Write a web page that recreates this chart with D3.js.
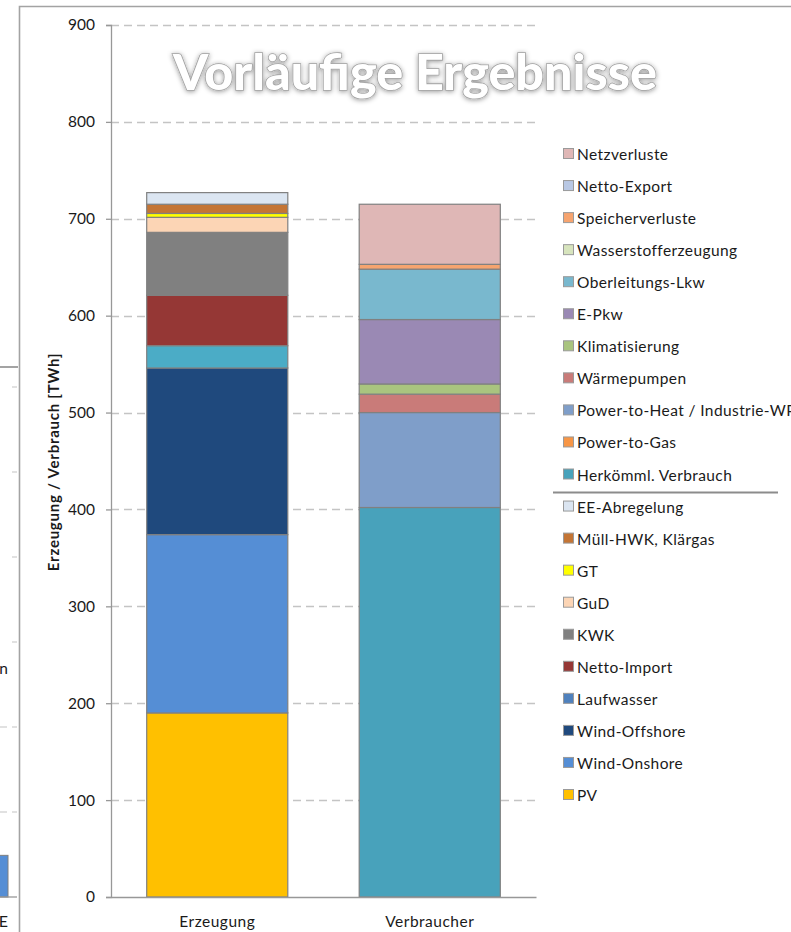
<!DOCTYPE html>
<html>
<head>
<meta charset="utf-8">
<script src="https://cdn.jsdelivr.net/npm/d3@7"></script>
<style>
  html, body { margin: 0; padding: 0; background: #fff; }
  svg { display: block; font-family: Lato, "Noto Sans", sans-serif; }
</style>
</head>
<body>
<svg id="chart" width="791" height="932"></svg>
<script>
// ---- data ---------------------------------------------------------------
const categories = ["Erzeugung", "Verbraucher"];

// generation side, bottom to top
const erzeugungSeries = ["PV", "Wind-Onshore", "Wind-Offshore", "Laufwasser", "Netto-Import",
  "KWK", "GuD", "GT", "Müll-HWK, Klärgas", "EE-Abregelung"];
const erzeugungValues = [190, 184, 172, 23, 52, 65, 15.5, 4, 9.5, 12];

// consumption side, bottom to top
const verbraucherSeries = ["Herkömml. Verbrauch", "Power-to-Gas", "Power-to-Heat / Industrie-WP",
  "Wärmepumpen", "Klimatisierung", "E-Pkw", "Oberleitungs-Lkw", "Wasserstofferzeugung",
  "Speicherverluste", "Netto-Export", "Netzverluste"];
const verbraucherValues = [402, 0, 98, 19, 10.5, 66.5, 52, 0, 5, 0, 62];

const yTicks = [0, 100, 200, 300, 400, 500, 600, 700, 800, 900];
const yTitle = "Erzeugung / Verbrauch [TWh]";
const titleText = "Vorläufige Ergebnisse";

// edge of the neighbouring panel on the left
const neighbourTicks = [100, 200, 300, 400, 500, 600];
const neighbourDashedTicks = [100, 200];
const neighbourBarValue = 49;
const neighbourLegendTail = "n";
const neighbourCategoryTail = "E";

// ---- styles -------------------------------------------------------------
const fills = {
  "PV": "#ffc000",
  "Wind-Onshore": "#558ed5",
  "Wind-Offshore": "#1f497d",
  "Laufwasser": "#4bacc6",
  "Netto-Import": "#953735",
  "KWK": "#808080",
  "GuD": "#fcd5b5",
  "GT": "#ffff00",
  "Müll-HWK, Klärgas": "#c47535",
  "EE-Abregelung": "#dbe5f1",
  "Herkömml. Verbrauch": "#48a2bb",
  "Power-to-Gas": "#f79646",
  "Power-to-Heat / Industrie-WP": "#7f9ec9",
  "Wärmepumpen": "#c97b79",
  "Klimatisierung": "#a9c47f",
  "E-Pkw": "#9a89b4",
  "Oberleitungs-Lkw": "#79b8ce",
  "Wasserstofferzeugung": "#d7e4bd",
  "Speicherverluste": "#f6a46f",
  "Netto-Export": "#b9c8e4",
  "Netzverluste": "#dfb7b6"
};
const legendFills = Object.assign({}, fills, { "Laufwasser": "#4f81bd" });

const W = 791, H = 932;
const plot = { left: 111, right: 536, top: 25, bottom: 897 };
const textColor = "#1a1a1a";
const axisColor = "#989898";
const gridColor = "#c4c4c4";
const FONT = "Lato, 'Noto Sans', sans-serif";

const svg = d3.select("#chart");

// ---- neighbouring panel (only its right edge is visible) ---------------
const yN = d3.scaleLinear().domain([0, 100]).range([plot.bottom, plot.bottom - 85]);
const nb = svg.append("g");
nb.selectAll("line.ngrid").data(neighbourTicks).join("line")
  .attr("x1", -40).attr("x2", 17)
  .attr("y1", d => yN(d)).attr("y2", d => yN(d))
  .attr("stroke", gridColor).attr("stroke-width", 1.2)
  .attr("stroke-dasharray", "8,5");
// legend box of the neighbouring panel hides part of its grid
nb.append("rect").attr("x", -10).attr("y", 368).attr("width", 21)
  .attr("height", yN(neighbourDashedTicks[1]) - 368 - 30).attr("fill", "#fff");
nb.append("line").attr("x1", -10).attr("x2", 18).attr("y1", 367).attr("y2", 367)
  .attr("stroke", "#8c8c8c").attr("stroke-width", 1.6);
nb.append("text").attr("x", 8).attr("y", 668).attr("text-anchor", "end")
  .attr("dominant-baseline", "central").attr("font-size", 15.5).attr("fill", textColor)
  .text(neighbourLegendTail);
nb.append("rect").attr("x", -20).attr("y", yN(neighbourBarValue))
  .attr("width", 28).attr("height", yN(0) - yN(neighbourBarValue))
  .attr("fill", "#558ed5").attr("stroke", "#7f7f7f").attr("stroke-width", 1);
nb.append("line").attr("x1", -10).attr("x2", 17).attr("y1", yN(0)).attr("y2", yN(0))
  .attr("stroke", axisColor).attr("stroke-width", 1.3);
nb.append("text").attr("x", 8).attr("y", 927).attr("text-anchor", "end")
  .attr("font-size", 16).attr("fill", textColor).text(neighbourCategoryTail);

// ---- frame of this panel -------------------------------------------------
svg.append("path")
  .attr("d", `M19.5,${H + 5} V6.5 H${W + 5}`)
  .attr("fill", "none").attr("stroke", "#a3a3a3").attr("stroke-width", 1.6);

// ---- scales --------------------------------------------------------------
const x = d3.scaleBand().domain(categories).range([plot.left, plot.right])
  .paddingInner(0.336).paddingOuter(0.168);
const y = d3.scaleLinear().domain([0, 900]).range([plot.bottom, plot.top]);

// ---- grid ----------------------------------------------------------------
svg.append("g").selectAll("line").data(yTicks.filter(d => d > 0)).join("line")
  .attr("x1", plot.left).attr("x2", plot.right)
  .attr("y1", d => Math.round(y(d)) + 0.5).attr("y2", d => Math.round(y(d)) + 0.5)
  .attr("stroke", gridColor).attr("stroke-width", 1.3)
  .attr("stroke-dasharray", "8,5");

// ---- title ---------------------------------------------------------------
const defs = svg.append("defs");
const glow = defs.append("filter").attr("id", "glow")
  .attr("x", "-10%").attr("y", "-30%").attr("width", "120%").attr("height", "160%");
glow.append("feGaussianBlur").attr("in", "SourceAlpha").attr("stdDeviation", 2.4).attr("result", "b");
glow.append("feOffset").attr("in", "b").attr("dx", 0.3).attr("dy", 1).attr("result", "o");
glow.append("feFlood").attr("flood-color", "#000").attr("flood-opacity", 0.4).attr("result", "c");
glow.append("feComposite").attr("in", "c").attr("in2", "o").attr("operator", "in").attr("result", "s");
const gm = glow.append("feMerge");
gm.append("feMergeNode").attr("in", "s");
gm.append("feMergeNode").attr("in", "SourceGraphic");

const title = svg.append("text")
  .attr("x", 415).attr("y", 90).attr("text-anchor", "middle")
  .attr("font-weight", 900).attr("font-size", 46)
  .attr("fill", "#fff").attr("stroke", "#a0a0a0").attr("stroke-width", 1.6)
  .attr("paint-order", "stroke").attr("filter", "url(#glow)")
  .text(titleText);
// fit the title to its intended width
const tw = title.node().getComputedTextLength();
title.attr("font-size", 46 * 484 / tw);

// ---- stacked bars --------------------------------------------------------
function stackOf(names, values) {
  let acc = 0;
  return names.map((n, i) => { const s = { name: n, y0: acc, y1: acc + values[i] }; acc += values[i]; return s; });
}
const stacks = [
  { cat: categories[0], segs: stackOf(erzeugungSeries, erzeugungValues) },
  { cat: categories[1], segs: stackOf(verbraucherSeries, verbraucherValues) }
];
const bars = svg.append("g");
stacks.forEach(st => {
  bars.append("g").selectAll("rect").data(st.segs).join("rect")
    .attr("x", x(st.cat))
    .attr("width", x.bandwidth())
    .attr("y", d => y(d.y1))
    .attr("height", d => y(d.y0) - y(d.y1))
    .attr("fill", d => fills[d.name])
    .attr("stroke", "#808080").attr("stroke-width", 1.2);
});

// ---- axes ----------------------------------------------------------------
const yAxis = d3.axisLeft(y).tickValues(yTicks).tickSize(5).tickPadding(11).tickFormat(d3.format("d"));
const gy = svg.append("g").attr("transform", `translate(${plot.left},0)`).call(yAxis);
gy.select(".domain").attr("stroke", axisColor).attr("stroke-width", 1.3);
gy.selectAll(".tick line").attr("stroke", axisColor).attr("stroke-width", 1.3);
gy.selectAll(".tick text").attr("font-size", 15.5).attr("fill", textColor)
  .attr("font-family", FONT);

const xAxis = d3.axisBottom(x).tickSize(0).tickPadding(0);
const gx = svg.append("g").attr("transform", `translate(0,${plot.bottom})`).call(xAxis);
gx.select(".domain").attr("stroke", axisColor).attr("stroke-width", 1.3);
gx.selectAll(".tick text").attr("font-size", 15.5).attr("fill", textColor)
  .attr("letter-spacing", 0.5)
  .attr("dy", null).attr("y", 30)
  .attr("font-family", FONT);

svg.append("text")
  .attr("transform", "translate(53,462) rotate(-90)")
  .attr("text-anchor", "middle").attr("dominant-baseline", "central")
  .attr("font-weight", 700).attr("font-size", 15).attr("letter-spacing", 0.75)
  .attr("fill", textColor)
  .text(yTitle);

// ---- legend ----------------------------------------------------------------
const legendItems = verbraucherSeries.slice().reverse().concat(erzeugungSeries.slice().reverse());
const legendY = d3.scalePoint().domain(d3.range(legendItems.length)).range([154, 795]);
const lg = svg.append("g");
const rows = lg.selectAll("g").data(legendItems).join("g")
  .attr("transform", (d, i) => `translate(563,${legendY(i)})`);
rows.append("rect").attr("x", 0.5).attr("y", -5.5).attr("width", 10).attr("height", 10)
  .attr("fill", d => legendFills[d]).attr("stroke", "#9a9a9a").attr("stroke-width", 1);
rows.append("text").attr("x", 14).attr("y", 0).attr("dominant-baseline", "central")
  .attr("font-size", 15.5).attr("letter-spacing", 0.4).attr("fill", textColor).text(d => d);
// separator between consumption and generation entries
const sepY = (legendY(verbraucherSeries.length - 1) + legendY(verbraucherSeries.length)) / 2 + 2;
lg.append("line").attr("x1", 553).attr("x2", 778).attr("y1", sepY).attr("y2", sepY)
  .attr("stroke", "#8c8c8c").attr("stroke-width", 2);
</script>
</body>
</html>
